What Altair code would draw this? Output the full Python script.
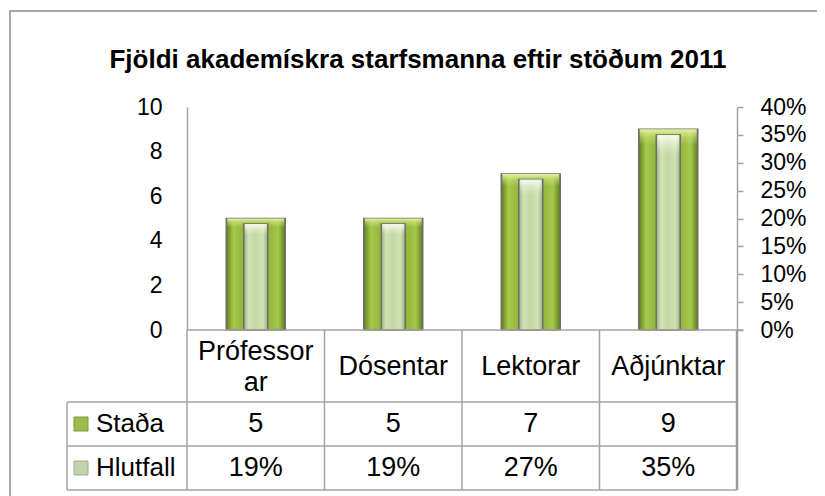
import altair as alt
import pandas as pd

# ---- data ----
categories = ["Prófessorar", "Dósentar", "Lektorar", "Aðjúnktar"]
header_labels = ["Prófessor\nar", "Dósentar", "Lektorar", "Aðjúnktar"]
stada = [5, 5, 7, 9]
hlutfall = [0.19, 0.19, 0.27, 0.35]
series_names = ["Staða", "Hlutfall"]
title_text = "Fjöldi akademískra starfsmanna eftir stöðum 2011"

df = pd.DataFrame({
    "cat": categories,
    "label": header_labels,
    "stada": stada,
    "hlutfall": hlutfall,
})

FONT = "Liberation Sans"
GRID = "#a3a3a3"
W, H = 550, 223
TFS = 27  # table font size

xscale = alt.Scale(domain=categories, paddingInner=0, paddingOuter=0)
yl_scale = alt.Scale(domain=[0, 10], nice=False)
yr_scale = alt.Scale(domain=[0, 0.4], nice=False)

left_axis = alt.Axis(title=None, values=[0, 2, 4, 6, 8, 10], ticks=False,
                     labelPadding=25, domainColor=GRID, domainWidth=1.5,
                     labelFontSize=23, labelColor="#000", labelFont=FONT,
                     grid=False)
right_axis = alt.Axis(title=None, orient="right", format=".0%",
                      values=[0, 0.05, 0.1, 0.15, 0.2, 0.25, 0.3, 0.35, 0.4],
                      tickSize=6, tickColor=GRID, tickWidth=1.5,
                      labelPadding=17, domainColor=GRID, domainWidth=1.5,
                      labelFontSize=23, labelColor="#000", labelFont=FONT,
                      grid=False)


def xenc(bp=0.5):
    return alt.X("cat:N", scale=xscale, axis=None, sort=categories, bandPosition=bp)


outer_grad = {
    "gradient": "linear", "x1": 0, "x2": 1, "y1": 0, "y2": 0,
    "stops": [
        {"offset": 0.0, "color": "#5f7d18"},
        {"offset": 0.12, "color": "#a6c84c"},
        {"offset": 0.32, "color": "#8fb236"},
        {"offset": 0.68, "color": "#8fb236"},
        {"offset": 0.88, "color": "#a6c84c"},
        {"offset": 1.0, "color": "#5f7d18"},
    ],
}
outer_top = {
    "gradient": "linear", "x1": 0, "x2": 0, "y1": 0, "y2": 1,
    "stops": [
        {"offset": 0.0, "color": "rgba(235,248,170,0.95)"},
        {"offset": 0.04, "color": "rgba(210,232,130,0.45)"},
        {"offset": 0.08, "color": "rgba(210,232,130,0)"},
        {"offset": 1.0, "color": "rgba(210,232,130,0)"},
    ],
}
inner_grad = {
    "gradient": "linear", "x1": 0, "x2": 1, "y1": 0, "y2": 0,
    "stops": [
        {"offset": 0.0, "color": "#98b078"},
        {"offset": 0.2, "color": "#d2e2b6"},
        {"offset": 0.5, "color": "#c2d7a0"},
        {"offset": 0.8, "color": "#d2e2b6"},
        {"offset": 1.0, "color": "#98b078"},
    ],
}
inner_top = {
    "gradient": "linear", "x1": 0, "x2": 0, "y1": 0, "y2": 1,
    "stops": [
        {"offset": 0.0, "color": "rgba(250,252,240,0.95)"},
        {"offset": 0.05, "color": "rgba(250,252,240,0.4)"},
        {"offset": 0.1, "color": "rgba(250,252,240,0)"},
        {"offset": 1.0, "color": "rgba(250,252,240,0)"},
    ],
}

base = alt.Chart(df)

outer = base.mark_bar(size=59, fill=outer_grad, stroke="#6e6e6e", strokeWidth=1.5).encode(
    x=xenc(), y=alt.Y("stada:Q", scale=yl_scale, axis=left_axis))
outer_hl = base.mark_bar(size=57, fill=outer_top).encode(
    x=xenc(), y=alt.Y("stada:Q", scale=yl_scale, axis=left_axis))

inner = base.mark_bar(size=24, fill=inner_grad, stroke="#6e6e6e", strokeWidth=1.5).encode(
    x=xenc(), y=alt.Y("hlutfall:Q", scale=yr_scale, axis=right_axis))
inner_hl = base.mark_bar(size=22, fill=inner_top).encode(
    x=xenc(), y=alt.Y("hlutfall:Q", scale=yr_scale, axis=right_axis))

bars_left = alt.layer(outer, outer_hl)
bars_right = alt.layer(inner, inner_hl)

# ---- data table below the plot ----
header_single = base.transform_filter("indexof(datum.label, '\\n') < 0").mark_text(
    font=FONT, fontSize=TFS, color="#000", baseline="middle", align="center").encode(
    x=xenc(), y=alt.value(260), text="label:N")
header_multi = base.transform_filter("indexof(datum.label, '\\n') >= 0").mark_text(
    font=FONT, fontSize=TFS, color="#000", lineBreak="\n", lineHeight=31,
    baseline="middle", align="center").encode(
    x=xenc(), y=alt.value(245), text="label:N")

row1 = base.mark_text(font=FONT, fontSize=TFS, color="#000", baseline="middle").encode(
    x=xenc(), y=alt.value(317), text=alt.Text("stada:Q", format="d"))

row2 = base.mark_text(font=FONT, fontSize=TFS, color="#000", baseline="middle").encode(
    x=xenc(), y=alt.value(361), text=alt.Text("hlutfall:Q", format=".0%"))

vlines = base.mark_rule(color=GRID, strokeWidth=1.5).encode(
    x=xenc(0), y=alt.value(H), y2=alt.value(383))

one = alt.Chart(pd.DataFrame({"k": [0]}))
right_border = one.mark_rule(color="#999999", strokeWidth=2.5).encode(
    x=alt.value(W), y=alt.value(H), y2=alt.value(383))
xaxis_line = one.mark_rule(color=GRID, strokeWidth=1.5).encode(
    x=alt.value(0), x2=alt.value(W + 6), y=alt.value(H))
hline1 = one.mark_rule(color=GRID, strokeWidth=1.5).encode(
    x=alt.value(-120), x2=alt.value(W), y=alt.value(295))
hline2 = one.mark_rule(color=GRID, strokeWidth=1.5).encode(
    x=alt.value(-120), x2=alt.value(W), y=alt.value(339))
hline3 = one.mark_rule(color=GRID, strokeWidth=1.5).encode(
    x=alt.value(-120), x2=alt.value(W), y=alt.value(383))
left_border = one.mark_rule(color=GRID, strokeWidth=1.5).encode(
    x=alt.value(-120), y=alt.value(295), y2=alt.value(383))

leg_text1 = one.mark_text(font=FONT, fontSize=26, color="#000",
                          align="left", baseline="middle").encode(
    x=alt.value(-91), y=alt.value(317), text=alt.value(series_names[0]))
leg_text2 = one.mark_text(font=FONT, fontSize=26, color="#000",
                          align="left", baseline="middle").encode(
    x=alt.value(-91), y=alt.value(361), text=alt.value(series_names[1]))
leg_sq1 = one.mark_rect(fill="#9cbb4a", stroke="#7f9a3a", strokeWidth=1).encode(
    x=alt.value(-113), x2=alt.value(-99), y=alt.value(310), y2=alt.value(324))
leg_sq2 = one.mark_rect(fill="#c3d3ab", stroke="#9fb08a", strokeWidth=1).encode(
    x=alt.value(-113), x2=alt.value(-99), y=alt.value(354), y2=alt.value(368))

title = one.mark_text(font=FONT, fontSize=26, fontWeight="bold", color="#000",
                      align="center", baseline="alphabetic").encode(
    x=alt.value(231), y=alt.value(-39), text=alt.value(title_text))

frame = one.mark_rect(fill=None, stroke="#8a8a8a", strokeWidth=1.5).encode(
    x=alt.value(-177), x2=alt.value(800), y=alt.value(-96), y2=alt.value(600))

chart = alt.layer(
    frame, bars_left, bars_right, header_single, header_multi, row1, row2, vlines,
    right_border, xaxis_line, hline1, hline2, hline3, left_border,
    leg_text1, leg_text2, leg_sq1, leg_sq2, title,
).resolve_scale(y="independent").properties(
    width=W, height=H,
    autosize=alt.AutoSizeParams(type="none"),
    padding={"left": 179, "top": 99, "right": 80, "bottom": 166},
    background="white",
).configure_view(stroke=None)

chart.save("out.html", embed_options={"renderer": "svg", "actions": False})
